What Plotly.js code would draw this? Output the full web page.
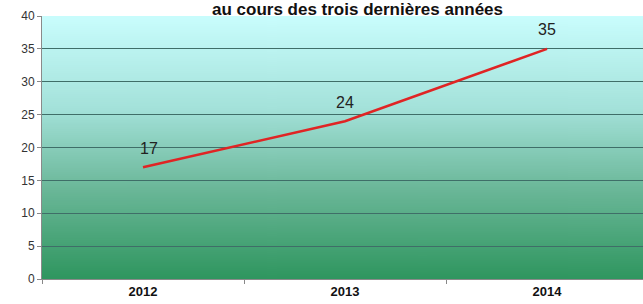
<!DOCTYPE html>
<html>
<head>
<meta charset="utf-8">
<script src="https://cdn.plot.ly/plotly-3.0.1.min.js"></script>
<style>html,body{margin:0;padding:0;background:#fff;}#chart{width:643px;height:304px;}</style>
</head>
<body>
<div id="chart"></div>
<script>
var years = ['2012', '2013', '2014'];
var values = [17, 24, 35];
var yTicks = [0, 5, 10, 15, 20, 25, 30, 35, 40];
var titleText = 'au cours des trois dernières années';

function gradientURL() {
  var c = document.createElement('canvas');
  c.width = 4; c.height = 256;
  var g = c.getContext('2d');
  var lg = g.createLinearGradient(0, 0, 0, 256);
  lg.addColorStop(0, '#c9fdfd');
  lg.addColorStop(0.35, '#a4e2da');
  lg.addColorStop(0.65, '#6cb89a');
  lg.addColorStop(1, '#2f965f');
  g.fillStyle = lg;
  g.fillRect(0, 0, 4, 256);
  return c.toDataURL('image/png');
}

var trace = {
  x: years, y: values, type: 'scatter', mode: 'lines',
  line: {color: '#e02424', width: 2.5},
  hoverinfo: 'skip'
};

var annotations = values.map(function (v, i) {
  return {
    x: i, y: v, xref: 'x', yref: 'y', text: String(v),
    showarrow: false, yshift: 19, xshift: i === 0 ? 6 : 0,
    font: {family: 'Liberation Sans, Arial, sans-serif', size: 16, color: '#222'}
  };
});
annotations.push({
  x: 0.525, y: 1.0, xref: 'paper', yref: 'paper', yanchor: 'bottom', yshift: -4,
  borderpad: 0,
  text: '<b>' + titleText + '</b>', showarrow: false,
  font: {family: 'Liberation Sans, Arial, sans-serif', size: 17, color: '#111'}
});

var layout = {
  width: 643, height: 304,
  margin: {l: 42, r: 0, t: 16, b: 25},
  paper_bgcolor: '#ffffff',
  plot_bgcolor: 'rgba(0,0,0,0)',
  showlegend: false,
  images: [{
    source: gradientURL(), xref: 'paper', yref: 'paper',
    x: 0, y: 1, sizex: 1, sizey: 1, sizing: 'stretch',
    xanchor: 'left', yanchor: 'top', layer: 'below'
  }],
  xaxis: {
    type: 'category', range: [-0.5, 2.475],
    tickson: 'boundaries', ticks: 'outside', ticklen: 4, tickcolor: '#888',
    showgrid: false, showline: true, linecolor: '#8a8a8a', linewidth: 1,
    tickfont: {family: 'Liberation Sans, Arial, sans-serif', size: 13, color: '#111', weight: 'bold'},
    zeroline: false, fixedrange: true
  },
  yaxis: {
    range: [0, 40], tickvals: yTicks, ticktext: yTicks.map(String),
    ticks: 'outside', ticklen: 4, tickcolor: '#888',
    showgrid: true, gridcolor: '#3f6e68', gridwidth: 1,
    showline: true, linecolor: '#8a8a8a', linewidth: 1,
    zeroline: false,
    tickfont: {family: 'Liberation Sans, Arial, sans-serif', size: 12, color: '#333'},
    fixedrange: true
  },
  annotations: annotations
};

Plotly.newPlot('chart', [trace], layout, {displayModeBar: false, staticPlot: true});
</script>
</body>
</html>
